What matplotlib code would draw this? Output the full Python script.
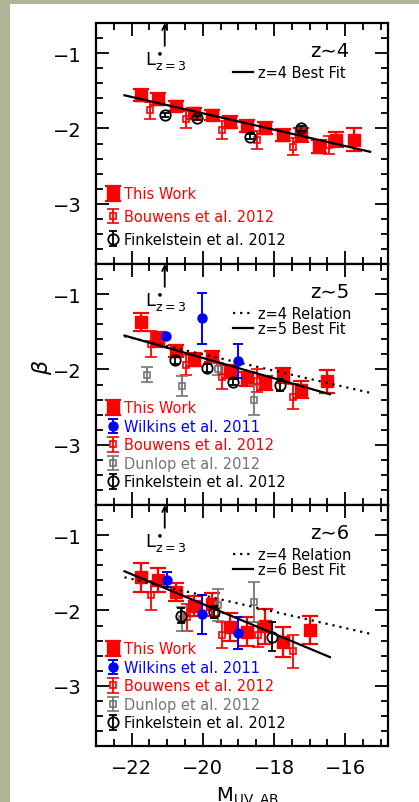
import matplotlib
matplotlib.use('Agg')
import matplotlib.pyplot as plt
from matplotlib.patches import Rectangle
from matplotlib.ticker import MultipleLocator

plt.rcParams['font.family'] = ['DejaVu Sans']
plt.rcParams['mathtext.fontset'] = 'dejavusans'

# ---------------- data ----------------
# z ~ 4
tw4_M = [-21.75, -21.25, -20.75, -20.25, -19.75, -19.25, -18.75, -18.25, -17.75, -17.25, -16.75, -16.25, -15.75]
tw4_b = [-1.55, -1.61, -1.70, -1.80, -1.82, -1.91, -1.97, -2.00, -2.09, -2.09, -2.24, -2.15, -2.15]
tw4_e = [0.08, 0.08, 0.07, 0.07, 0.07, 0.08, 0.08, 0.08, 0.08, 0.09, 0.09, 0.10, 0.15]
bo4_M = [-21.47, -20.47, -19.45, -18.47, -17.46, -16.47]
bo4_b = [-1.76, -1.88, -2.02, -2.15, -2.24, -2.22]
bo4_e = [0.11, 0.11, 0.12, 0.12, 0.11, 0.12]
fi4_M = [-21.05, -20.17, -18.68, -17.23]
fi4_b = [-1.82, -1.86, -2.11, -2.00]
fi4_e = [0.03, 0.03, 0.03, 0.03]
fit4_M = [-22.2, -15.3]
fit4_b = [-1.56, -2.31]

# z ~ 5
tw5_M = [-21.75, -21.25, -20.75, -20.25, -19.75, -19.25, -18.75, -18.25, -17.75, -17.25, -16.5]
tw5_b = [-1.37, -1.60, -1.75, -1.87, -1.83, -2.03, -2.13, -2.18, -2.08, -2.27, -2.16]
tw5_e = [0.12, 0.10, 0.08, 0.085, 0.07, 0.09, 0.09, 0.09, 0.095, 0.115, 0.15]
wi5_M = [-21.03, -20.02, -19.01]
wi5_b = [-1.56, -1.32, -1.89]
wi5_e = [0.02, 0.34, 0.23]
bo5_M = [-21.46, -20.47, -19.46, -18.47, -17.46]
bo5_b = [-1.66, -1.94, -2.10, -2.15, -2.36]
bo5_e = [0.17, 0.13, 0.155, 0.15, 0.17]
du5_M = [-21.57, -20.58, -19.58, -18.57]
du5_b = [-2.07, -2.22, -2.00, -2.40]
du5_e = [0.10, 0.13, 0.08, 0.20]
fi5_M = [-20.78, -19.89, -19.15, -17.84]
fi5_b = [-1.88, -1.98, -2.17, -2.21]
fi5_e = [0.05, 0.05, 0.04, 0.08]
fit5_M = [-22.2, -16.43]
fit5_b = [-1.55, -2.33]

# z ~ 6
tw6_M = [-21.75, -21.25, -20.75, -20.25, -19.75, -19.25, -18.75, -18.25, -17.75, -17.0]
tw6_b = [-1.56, -1.59, -1.75, -1.94, -1.92, -2.22, -2.28, -2.21, -2.42, -2.26]
tw6_e = [0.19, 0.16, 0.12, 0.13, 0.15, 0.18, 0.19, 0.23, 0.20, 0.19]
wi6_M = [-21.01, -20.02, -19.01]
wi6_b = [-1.59, -2.05, -2.30]
wi6_e = [0.10, 0.26, 0.21]
bo6_M = [-21.46, -20.45, -19.45, -18.45, -17.46]
bo6_b = [-1.80, -2.09, -2.33, -2.32, -2.54]
bo6_e = [0.19, 0.18, 0.17, 0.17, 0.22]
du6_M = [-20.58, -19.58, -18.57]
du6_b = [-2.11, -1.93, -1.89]
du6_e = [0.16, 0.21, 0.27]
fi6_M = [-20.61, -19.69, -18.07]
fi6_b = [-2.07, -2.02, -2.35]
fi6_e = [0.10, 0.08, 0.19]
fit6_M = [-22.2, -16.43]
fit6_b = [-1.48, -2.62]

Lstar_M = -21.07
panel_labels = ['z∼4', 'z∼5', 'z∼6']
fit_labels = ['z=4 Best Fit', 'z=5 Best Fit', 'z=6 Best Fit']
rel_label = 'z=4 Relation'
x_ticks = [-22, -20, -18, -16]
y_ticks = [-1, -2, -3]

RED = '#ff0000'
BLUE = '#0000ff'
GRAY = '#757575'
BLACK = '#000000'
LEGFS = 10.5

W, H = 419, 803
fig = plt.figure(figsize=(W / 100, H / 100), dpi=100, facecolor='#b1b496')
fig.add_artist(Rectangle((10 / W, 0), 1, 1 - 5 / H, transform=fig.transFigure,
                         facecolor='white', edgecolor='none', zorder=-10))

def tw(ax, M, b, e):
    return ax.errorbar(M, b, yerr=e, fmt='s', color=RED, ms=9, mec=RED, mfc=RED,
                       elinewidth=1.6, capsize=6, capthick=1.6, zorder=3)

def bo(ax, M, b, e):
    return ax.errorbar(M, b, yerr=e, fmt='s', color=RED, ms=5, mfc='none', mec=RED, mew=1.2,
                       elinewidth=1.3, capsize=4.5, capthick=1.3, zorder=4)

def du(ax, M, b, e):
    return ax.errorbar(M, b, yerr=e, fmt='s', color=GRAY, ms=5, mfc='none', mec=GRAY, mew=1.2,
                       elinewidth=1.3, capsize=4.5, capthick=1.3, zorder=4)

def wi(ax, M, b, e):
    return ax.errorbar(M, b, yerr=e, fmt='o', color=BLUE, ms=6.5, mfc=BLUE, mec=BLUE,
                       elinewidth=1.4, capsize=3.5, capthick=1.4, zorder=5)

def fi(ax, M, b, e):
    return ax.errorbar(M, b, yerr=e, fmt='o', color=BLACK, ms=7.5, mfc='none', mec=BLACK, mew=1.3,
                       elinewidth=1.3, capsize=3, capthick=1.3, zorder=6)

axes = []
for i in range(3):
    top = 24 + 241 * i
    ax = fig.add_axes([96 / W, 1 - (top + 241) / H, 292 / W, 241 / H])
    ax.set_xlim(-23, -14.8)
    ax.set_ylim(-3.8, -0.6)
    ax.xaxis.set_major_locator(MultipleLocator(2))
    ax.xaxis.set_minor_locator(MultipleLocator(0.5))
    ax.set_yticks(y_ticks)
    ax.yaxis.set_minor_locator(MultipleLocator(0.2))
    ax.tick_params(which='both', direction='in', top=True, right=True, width=1.3, labelsize=14)
    ax.tick_params(which='major', length=9.5)
    ax.tick_params(which='minor', length=5)
    ax.tick_params(axis='x', pad=9)
    ax.tick_params(axis='y', pad=10)
    for s in ax.spines.values():
        s.set_linewidth(1.6)
    if i < 2:
        ax.tick_params(axis='x', labelbottom=False)
    else:
        ax.set_xticks(x_ticks)
        ax.set_xticklabels(['−22', '−20', '−18', '−16'])
    ax.set_yticklabels(['−1', '−2', '−3'])
    # L* arrow
    ax.annotate('', xy=(Lstar_M, 1.0), xytext=(Lstar_M, 0.905),
                xycoords=('data', 'axes fraction'), textcoords=('data', 'axes fraction'),
                arrowprops=dict(arrowstyle='->', lw=1.3, color='black', mutation_scale=9,
                                shrinkA=0, shrinkB=0))
    ax.text(-21.62, 0.845, r'$\mathrm{L}^{\bullet}_{\mathrm{z=3}}$', transform=ax.get_xaxis_transform(),
            fontsize=13, ha='left', va='center')
    ax.text(0.80, 0.886, panel_labels[i], transform=ax.transAxes, fontsize=14,
            ha='center', va='center')
    axes.append(ax)

# ---- panel z~4
ax = axes[0]
h_tw = tw(ax, tw4_M, tw4_b, tw4_e)
h_bo = bo(ax, bo4_M, bo4_b, bo4_e)
h_fi = fi(ax, fi4_M, fi4_b, fi4_e)
l_fit, = ax.plot(fit4_M, fit4_b, color='black', lw=1.6, zorder=7)
leg1 = ax.legend([h_tw, h_bo, h_fi], ['This Work', 'Bouwens et al. 2012', 'Finkelstein et al. 2012'],
                 loc='upper left', bbox_to_anchor=(0.034, 0.322), frameon=False, fontsize=LEGFS,
                 handlelength=0.95, handletextpad=0.3, borderpad=0, borderaxespad=0,
                 labelspacing=0.53, numpoints=1)
for t, c in zip(leg1.get_texts(), [RED, RED, BLACK]):
    t.set_color(c)
ax.add_artist(leg1)
leg2 = ax.legend([l_fit], [fit_labels[0]], loc='upper left', bbox_to_anchor=(0.469, 0.825),
                 frameon=False, fontsize=LEGFS, handlelength=1.4, handletextpad=0.3,
                 borderpad=0, borderaxespad=0)

# ---- panels z~5, z~6
sets = [
    (tw5_M, tw5_b, tw5_e, wi5_M, wi5_b, wi5_e, bo5_M, bo5_b, bo5_e, du5_M, du5_b, du5_e,
     fi5_M, fi5_b, fi5_e, fit5_M, fit5_b),
    (tw6_M, tw6_b, tw6_e, wi6_M, wi6_b, wi6_e, bo6_M, bo6_b, bo6_e, du6_M, du6_b, du6_e,
     fi6_M, fi6_b, fi6_e, fit6_M, fit6_b),
]
for k, s in enumerate(sets):
    ax = axes[k + 1]
    (tM, tb, te, wM, wb, we, bM, bb, be, dM, db, de, fM, fb, fe, fitM, fitb) = s
    h_tw = tw(ax, tM, tb, te)
    h_bo = bo(ax, bM, bb, be)
    h_du = du(ax, dM, db, de)
    h_wi = wi(ax, wM, wb, we)
    h_fi = fi(ax, fM, fb, fe)
    l_rel, = ax.plot(fit4_M, fit4_b, color='black', lw=1.6, ls=(0, (1, 2.2)), zorder=7)
    l_fit, = ax.plot(fitM, fitb, color='black', lw=1.6, zorder=7)
    leg1 = ax.legend([h_tw, h_wi, h_bo, h_du, h_fi],
                     ['This Work', 'Wilkins et al. 2011', 'Bouwens et al. 2012',
                      'Dunlop et al. 2012', 'Finkelstein et al. 2012'],
                     loc='upper left', bbox_to_anchor=(0.034, 0.434), frameon=False, fontsize=LEGFS,
                     handlelength=0.95, handletextpad=0.3, borderpad=0, borderaxespad=0,
                     labelspacing=0.24, numpoints=1)
    for t, c in zip(leg1.get_texts(), [RED, BLUE, RED, GRAY, BLACK]):
        t.set_color(c)
    ax.add_artist(leg1)
    ax.legend([l_rel, l_fit], [rel_label, fit_labels[k + 1]], loc='upper left',
              bbox_to_anchor=(0.469, 0.826), frameon=False, fontsize=LEGFS,
              handlelength=1.4, handletextpad=0.3, borderpad=0, borderaxespad=0,
              labelspacing=-0.02)

fig.text(42 / W, 1 - 367 / H, r'$\beta$', rotation=90, fontsize=16, ha='center', va='center')
fig.text(248 / W, 1.5 / H, r'M$_{\mathrm{UV,AB}}$', fontsize=14, ha='center', va='baseline')

fig.savefig('out.png', dpi=100, facecolor=fig.get_facecolor())
